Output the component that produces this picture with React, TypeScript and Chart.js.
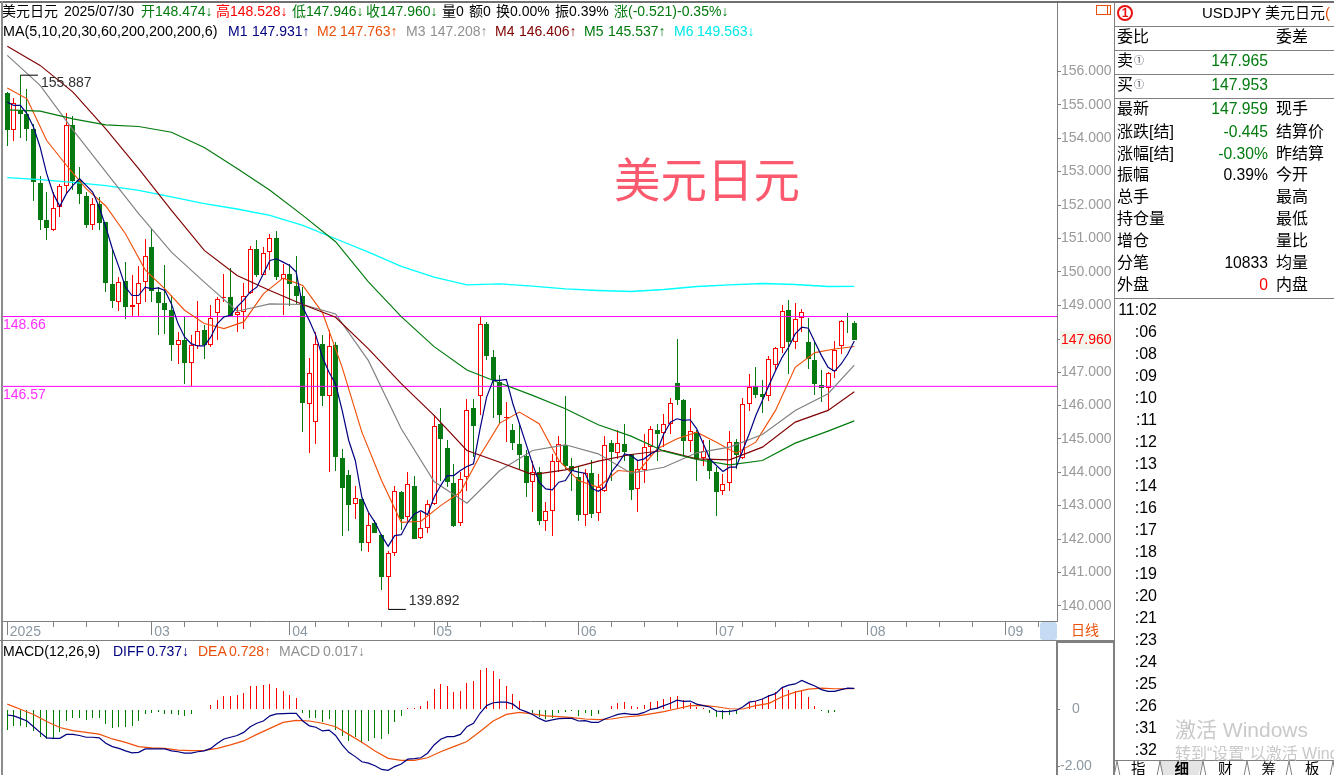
import React, { useEffect, useRef } from "react";
import { Chart, registerables } from "chart.js";

Chart.register(...registerables);

const opens = [155.35,154.25,154.80,154.71,154.28,152.67,151.54,151.24,151.94,152.56,
154.41,152.74,152.26,151.39,152.02,151.49,149.62,149.09,149.71,148.95,
149.05,149.69,150.73,149.41,149.08,148.87,147.80,147.97,147.27,147.77,
148.25,147.80,148.76,149.21,149.26,148.71,148.79,149.37,150.67,149.90,
150.59,151.02,149.79,149.94,149.58,149.29,146.05,145.51,147.85,146.28,
147.82,144.43,143.93,143.04,143.20,141.89,142.48,142.13,140.86,141.58,
143.41,142.65,143.59,142.03,142.33,143.05,145.43,144.71,143.69,142.47,
143.85,145.91,146.28,148.45,147.46,146.71,145.63,145.25,144.85,144.49,
143.70,144.01,142.54,142.84,144.30,144.82,144.20,143.87,142.71,143.99,
142.77,143.44,144.88,144.57,144.85,144.55,143.49,144.07,144.75,145.27,
145.17,145.44,146.68,146.15,144.93,145.21,144.43,144.40,144.02,143.44,
143.68,144.91,144.43,146.04,146.59,146.33,146.28,147.21,147.72,148.86,
147.89,148.63,147.90,147.36,146.62,146.53,147.02,147.78,148.50,148.474];
const closes = [154.25,155.06,154.73,154.28,152.68,151.54,151.31,151.92,152.56,154.41,
152.72,152.32,151.39,152.02,151.47,149.66,149.12,149.70,148.94,149.01,
149.67,150.48,149.42,149.08,148.87,147.80,147.97,147.27,147.80,148.24,
147.80,148.63,149.19,149.26,148.69,148.79,149.28,150.69,149.90,150.57,
151.02,149.84,149.94,149.62,149.29,146.07,146.97,147.84,146.28,147.78,
144.45,143.52,143.03,143.23,141.87,142.42,142.19,140.86,141.58,143.43,
142.61,143.65,142.01,142.32,143.05,145.39,144.99,143.70,142.40,143.80,
145.87,145.38,148.44,147.47,146.75,145.71,145.65,144.87,144.51,143.67,
144.00,142.55,142.84,144.34,144.83,144.18,144.05,142.71,143.99,142.76,
143.56,144.82,144.60,144.88,144.61,143.48,144.10,144.76,145.30,145.14,
145.44,146.08,146.16,144.93,145.24,144.40,144.63,144.03,143.40,143.65,
144.91,144.51,146.05,146.55,146.30,146.25,147.39,147.72,148.82,147.89,
148.58,148.80,147.38,146.64,146.53,146.97,147.67,148.53,148.49,147.960];
const highs = [155.38,155.21,155.887,155.48,154.43,152.88,152.40,152.38,152.62,154.76,
154.65,153.14,152.40,152.22,152.24,151.49,150.69,149.84,150.29,149.89,
150.16,150.97,151.29,149.54,150.19,149.31,148.20,148.65,148.10,149.12,
148.42,149.02,149.26,149.92,150.12,148.94,149.65,150.76,150.94,150.74,
151.14,151.21,150.22,150.24,150.48,149.54,147.42,148.19,148.12,148.26,
147.89,144.68,144.08,143.59,143.20,142.77,142.56,142.15,141.65,143.59,
143.45,144.01,143.88,142.80,143.18,145.70,145.91,144.97,144.25,144.00,
146.18,146.18,148.64,148.49,147.66,146.90,146.10,145.45,145.40,144.65,
144.35,144.15,143.10,144.55,145.07,146.27,144.43,144.20,144.10,144.37,
143.95,145.08,144.95,145.27,145.45,144.55,144.35,145.15,145.37,145.43,
145.75,146.21,148.00,146.20,145.93,145.25,144.95,144.95,144.15,143.95,
145.22,145.00,146.23,146.95,147.16,146.77,147.49,147.76,149.02,149.17,
149.07,148.89,148.62,147.94,147.05,147.01,147.94,148.56,148.78,148.528];
const lows = [153.78,153.91,154.00,153.93,152.11,151.24,150.94,151.22,151.64,152.37,
152.44,152.02,151.31,151.24,151.24,149.39,148.92,148.84,148.60,148.67,
148.67,149.09,149.09,148.10,148.13,147.33,147.25,146.63,146.57,147.70,
147.40,147.75,147.95,149.09,148.65,148.20,148.30,149.34,149.84,149.89,
150.04,149.74,148.70,148.99,149.04,145.20,144.57,144.83,145.97,144.00,
144.03,142.08,142.23,142.60,141.65,141.61,142.19,140.46,139.892,141.49,
142.27,142.55,141.99,141.99,142.17,143.03,143.75,143.55,142.35,142.40,
143.45,144.45,145.70,147.37,145.63,145.43,144.91,144.65,144.10,143.27,
142.80,142.43,142.23,142.10,144.00,144.10,143.45,142.53,142.38,142.62,
142.53,143.40,143.75,144.40,144.35,143.18,142.80,143.67,144.50,144.33,
144.75,145.15,146.00,144.50,144.60,143.75,144.18,143.80,142.68,143.31,
143.45,144.10,144.41,145.83,146.23,145.77,146.12,147.04,147.56,146.93,
147.69,148.19,147.08,146.31,146.10,145.85,146.81,147.54,148.16,147.946];

// MA1 is read at every candle; the smoother averages at every 3rd or 5th candle.
const ma1 = [155.08,154.98,154.98,154.73,154.33,153.73,152.94,152.34,151.96,152.34,
152.59,152.79,152.59,152.39,151.94,151.34,150.69,150.14,149.54,149.29,
149.29,149.54,149.49,149.52,149.44,149.04,148.45,148.05,147.85,147.78,
147.78,148.05,148.45,148.65,148.70,148.95,149.15,149.40,149.54,149.94,
150.34,150.39,150.29,150.19,149.99,148.94,148.54,148.09,147.44,146.99,
146.64,145.85,144.95,144.35,143.25,142.80,142.50,142.10,141.78,142.10,
142.13,142.50,142.75,142.85,142.73,143.25,143.60,143.90,143.90,144.05,
144.17,144.25,145.30,146.25,146.75,146.75,146.78,146.05,145.45,144.85,
144.25,143.70,143.50,143.47,143.70,143.75,144.05,144.00,143.97,143.52,
143.43,143.55,144.00,144.25,144.55,144.50,144.35,144.40,144.55,144.65,
145.15,145.50,145.60,145.55,145.57,145.30,144.85,144.40,144.20,144.02,
144.15,144.15,144.65,145.15,145.70,146.15,146.60,147.04,147.44,147.74,
148.14,148.34,148.31,147.89,147.49,147.14,147.02,147.24,147.54,147.931];
const ma2Every3 = [155.50,155.18,153.93,153.19,152.49,151.97,151.14,150.06,149.49,148.85,148.45,148.30,148.50,149.34,149.81,
149.59,148.78,147.14,145.20,143.75,142.50,142.53,143.00,143.40,144.50,145.47,145.80,145.45,144.35,
143.75,143.55,144.05,144.00,144.70,145.00,145.20,144.90,144.57,144.90,145.85,147.14,147.58,147.69,147.763];
const ma3Every5 = [156.48,155.58,154.25,152.99,151.74,150.59,149.69,148.82,149.04,149.02,148.74,147.34,145.30,143.72,143.07,144.05,144.65,144.82,144.55,143.97,144.15,144.58,144.75,145.13,145.85,146.35,147.208];
const ma4Every5 = [156.75,156.18,155.38,154.28,153.09,151.84,150.64,149.89,149.44,149.02,148.64,147.69,146.65,145.70,144.65,144.30,143.93,144.07,144.33,144.53,144.65,144.40,144.37,144.75,145.50,145.85,146.406];
const ma5Every5 = [154.85,154.81,154.58,154.40,154.35,154.18,153.72,153.09,152.44,151.69,150.90,149.70,148.66,147.76,147.06,146.67,146.30,145.90,145.42,145.08,144.63,144.38,144.22,144.35,144.87,145.23,145.537];
const ma6Every5 = [152.82,152.76,152.68,152.58,152.44,152.24,152.04,151.88,151.69,151.39,150.99,150.59,150.16,149.84,149.61,149.64,149.57,149.49,149.44,149.41,149.47,149.56,149.61,149.65,149.62,149.56,149.563];

const macdBars = [-0.73,-0.58,-0.58,-0.61,-0.76,-0.96,-1.05,-0.99,-0.78,-0.41,
-0.32,-0.32,-0.37,-0.32,-0.32,-0.52,-0.64,-0.62,-0.62,-0.58,
-0.41,-0.18,-0.14,-0.08,-0.15,-0.18,-0.20,-0.22,-0.18,-0.02,
0,0.15,0.33,0.47,0.47,0.50,0.58,0.80,0.80,0.85,
0.89,0.76,0.64,0.50,0.39,-0.14,-0.32,-0.32,-0.46,-0.34,
-0.73,-0.93,-1.11,-0.96,-1.19,-1.11,-1.01,-1.04,-0.87,-0.46,
-0.23,0.05,0.05,0.12,0.29,0.71,0.89,0.82,0.61,0.64,
0.92,0.99,1.38,1.45,1.34,1.06,0.82,0.54,0.29,0.02,
-0.12,-0.26,-0.34,-0.29,-0.12,-0.11,-0.06,-0.22,-0.12,-0.22,
-0.16,0.02,0.13,0.22,0.26,0.13,0.09,0.16,0.26,0.29,
0.36,0.43,0.47,0.33,0.21,0.09,0.04,-0.12,-0.26,-0.33,
-0.20,-0.15,0,0.25,0.29,0.36,0.50,0.60,0.76,0.68,
0.64,0.65,0.43,0.13,-0.06,-0.12,-0.09,0,0.02,0.017];
const diffLine = [-0.20,-0.23,-0.32,-0.41,-0.61,-0.81,-1.00,-1.02,-1.02,-0.88,
-0.88,-0.92,-0.98,-0.98,-1.00,-1.19,-1.31,-1.37,-1.46,-1.53,
-1.51,-1.39,-1.39,-1.39,-1.39,-1.46,-1.49,-1.54,-1.54,-1.49,
-1.46,-1.37,-1.19,-1.04,-0.98,-0.92,-0.81,-0.61,-0.49,-0.41,
-0.23,-0.16,-0.15,-0.14,-0.14,-0.41,-0.58,-0.63,-0.76,-0.73,
-0.92,-1.25,-1.51,-1.66,-1.84,-1.89,-1.98,-2.11,-2.14,-2.01,
-1.92,-1.75,-1.73,-1.70,-1.54,-1.25,-1.05,-0.96,-0.96,-0.88,
-0.61,-0.49,-0.14,0.13,0.23,0.25,0.25,0.18,0,-0.08,
-0.18,-0.32,-0.42,-0.37,-0.33,-0.32,-0.32,-0.41,-0.40,-0.46,
-0.46,-0.34,-0.26,-0.18,-0.14,-0.18,-0.18,-0.11,0,0.04,
0.13,0.21,0.32,0.28,0.29,0.18,0.13,0.08,-0.06,-0.08,
-0.07,-0.04,0.08,0.25,0.29,0.36,0.47,0.55,0.76,0.85,
0.89,1.01,0.91,0.82,0.69,0.63,0.63,0.69,0.74,0.737];
const deaEvery2 = [0.18,0,-0.18,-0.43,-0.64,-0.75,-0.81,-0.87,-1.04,-1.16,-1.31,-1.35,-1.37,-1.43,-1.45,-1.44,-1.37,-1.25,-1.11,-0.88,-0.67,-0.46,-0.39,-0.41,-0.49,-0.61,-0.88,-1.16,-1.46,-1.72,-1.79,-1.79,-1.70,-1.49,
-1.31,-1.13,-0.78,-0.41,-0.18,-0.11,-0.16,-0.23,-0.26,-0.29,-0.34,-0.36,-0.34,-0.27,-0.23,-0.16,-0.08,0.02,0.13,0.14,0.09,0.02,0.01,0.13,0.21,0.44,0.60,0.71,0.74,0.72,0.72,0.728];

const priceTicks = [140,141,142,143,144,145,146,147,149,150,151,152,153,154,155,156];
const currentPrice = 147.96;
const macdTicks = [-2, 0];
const monthTickIdx = [0,22,43,65,87,108,131,152];
const monthLabels = ["2025","03","04","05","06","07","08","09"];
const minorTickIdx = [7,12,17,27,32,37,47,52,57,62,67,72,77,82,92,97,102,112,117,122,127,137,142,147,157];
const levelLines = [148.66, 146.57];
const highMark = { from: 2, to: 4.67, value: 155.887 };
const lowMark = { from: 58, to: 60.7, value: 139.892 };

const header1 = [
  ["美元日元", 2, "#000"], ["2025/07/30", 64, "#000"], ["开148.474↓", 141, "#007a0c"], ["高148.528↓", 216, "#f00"],
  ["低147.946↓", 292, "#007a0c"], ["收147.960↓", 366, "#007a0c"], ["量0", 442, "#000"], ["额0", 469, "#000"],
  ["换0.00%", 496, "#000"], ["振0.39%", 555, "#000"], ["涨(-0.521)-0.35%↓", 614, "#007a0c"],
] as const;
const header2 = [
  ["MA(5,10,20,30,60,200,200,200,6)", 3, "#000"], ["M1", 228, "#000080"], ["147.931↑", 252, "#000080"],
  ["M2", 317, "#e8500a"], ["147.763↑", 340, "#e8500a"], ["M3", 406, "#909090"], ["147.208↑", 430, "#909090"],
  ["M4", 495, "#800000"], ["146.406↑", 519, "#800000"], ["M5", 584, "#007a0c"], ["145.537↑", 608, "#007a0c"],
  ["M6", 674, "#00e8e8"], ["149.563↓", 697, "#00e8e8"],
] as const;
const macdHeader = [
  ["MACD(12,26,9)", 3, "#000"], ["DIFF", 113, "#000080"], ["0.737↓", 147, "#000080"], ["DEA", 198, "#e8500a"],
  ["0.728↑", 229, "#e8500a"], ["MACD", 279, "#909090"], ["0.017↓", 323, "#909090"],
] as const;
const panelRows = [
  ["最新", "147.959", "现手", 109, "#007a0c"], ["涨跌[结]", "-0.445", "结算价", 131.5, "#007a0c"],
  ["涨幅[结]", "-0.30%", "昨结算", 153.5, "#007a0c"], ["振幅", "0.39%", "今开", 175, "#000"],
  ["总手", "", "最高", 197, "#000"], ["持仓量", "", "最低", 219, "#000"], ["增仓", "", "量比", 241, "#000"],
  ["分笔", "10833", "均量", 263, "#000"], ["外盘", "0", "内盘", 285, "#f00"],
] as const;
const timeRows = ["11:02",":06",":08",":09",":10",":11",":12",":13",":14",":16",":17",":18",":19",":20",":21",":23",":24",":25",":26",":31",":32"];
const tabs = ["指","细","财","筹","板"];

const GREEN = "#067a10";
const RED = "#ff0000";
const FONT = '"Liberation Sans","Noto Sans CJK SC",sans-serif';
const X_MIN = -0.655;
const X_MAX = 159.87;

const every = (vals: number[], step: number) => vals.map((y, i) => ({ x: Math.min(i * step, 129), y }));
const isDown = (i: number) => closes[i] < opens[i];
const noPad = (s: any) => { s.paddingTop = 0; s.paddingBottom = 0; s.paddingLeft = 0; s.paddingRight = 0; };

// keep thin bars crisp on the pixel grid
const snapBars = {
  id: "snapBars",
  beforeDatasetsDraw(chart: any) {
    chart.data.datasets.forEach((_: any, di: number) => {
      const meta = chart.getDatasetMeta(di);
      if (meta.type !== "bar") return;
      meta.data.forEach((el: any) => {
        el.x = Math.floor(el.x) + 0.5;
        el.y = Math.round(el.y);
        el.base = Math.round(el.base);
      });
    });
  },
};

const mainMarks = {
  id: "mainMarks",
  afterDraw(chart: any) {
    const { ctx, scales } = chart;
    const { x, y } = scales;
    ctx.save();
    ctx.strokeStyle = "#808080";
    ctx.lineWidth = 1;
    monthTickIdx.forEach((m) => {
      const px = Math.floor(x.getPixelForValue(m)) + 0.5;
      if (px > x.right) return;
      ctx.beginPath();
      ctx.moveTo(px, x.top);
      ctx.lineTo(px, x.top + 14);
      ctx.stroke();
    });
    ctx.font = "14px " + FONT;
    ctx.textBaseline = "middle";
    ctx.fillStyle = "#303030";
    ctx.fillText(highMark.value.toFixed(3), x.getPixelForValue(highMark.to) + 3, y.getPixelForValue(highMark.value) + 8);
    ctx.fillText(lowMark.value.toFixed(3), x.getPixelForValue(lowMark.to) + 3, y.getPixelForValue(lowMark.value) - 8);
    ctx.fillStyle = "#ff30ff";
    levelLines.forEach((l) => ctx.fillText(l.toFixed(2), 3, y.getPixelForValue(l) + 9));
    ctx.restore();
  },
};

function Txt({ x, y, right, size = 14, color = "#000", bold, children }: any) {
  const pos: any = right !== undefined ? { right: 1334 - right } : { left: x };
  return (
    <div style={{ position: "absolute", ...pos, top: y - 10, lineHeight: "20px", fontSize: size, color, fontWeight: bold ? "bold" : "normal", whiteSpace: "nowrap", fontFamily: FONT }}>
      {children}
    </div>
  );
}

function Rule({ x, y, w, h, c = "#808080" }: any) {
  return <div style={{ position: "absolute", left: x, top: y, width: w, height: h, background: c }} />;
}

export default function App() {
  const mainRef = useRef<HTMLCanvasElement>(null);
  const macdRef = useRef<HTMLCanvasElement>(null);

  useEffect(() => {
    const line = (data: any[], color: string, width = 1.15, order = 1) => ({
      type: "line", data, borderColor: color, borderWidth: width, pointRadius: 0, tension: 0, fill: false, order,
    });
    const idx = opens.map((_, i) => i);
    const main = new Chart(mainRef.current as any, {
      type: "bar",
      data: {
        datasets: [
          { data: idx.map((i) => ({ x: i, y: [lows[i], highs[i]] })), backgroundColor: idx.map((i) => (isDown(i) ? GREEN : RED)), barThickness: 1, grouped: false, order: 5, inflateAmount: 0, borderWidth: 0 },
          { data: idx.map((i) => ({ x: i, y: [Math.min(opens[i], closes[i]), Math.max(opens[i], closes[i])] })), backgroundColor: idx.map((i) => (isDown(i) ? GREEN : "#ffffff")), borderColor: idx.map((i) => (isDown(i) ? GREEN : RED)), borderWidth: 1, borderSkipped: false, barThickness: 5, grouped: false, order: 4, inflateAmount: 0 },
          line([{ x: X_MIN, y: levelLines[0] }, { x: X_MAX, y: levelLines[0] }], "#ff00ff", 1, 3),
          line([{ x: X_MIN, y: levelLines[1] }, { x: X_MAX, y: levelLines[1] }], "#ff00ff", 1, 3),
          line(every(ma6Every5, 5), "#00ffff", 1.3, 2),
          line(every(ma5Every5, 5), "#007a0c"),
          line(every(ma4Every5, 5), "#800000"),
          line(every(ma3Every5, 5), "#808080"),
          line(every(ma2Every3, 3), "#f0500a"),
          line(every(ma1, 1), "#000080", 1.2, 0),
          line([{ x: highMark.from, y: highMark.value }, { x: highMark.to, y: highMark.value }], "#000", 1, 0),
          line([{ x: lowMark.from, y: lowMark.value }, { x: lowMark.to, y: lowMark.value }], "#000", 1, 0),
        ] as any,
      },
      options: {
        animation: false, responsive: false, devicePixelRatio: 1, events: [],
        layout: { padding: { left: 3, top: 3, right: 0, bottom: 0 } },
        plugins: { legend: { display: false }, tooltip: { enabled: false } },
        scales: {
          x: {
            type: "linear", position: "bottom", min: X_MIN, max: X_MAX, offset: false,
            afterBuildTicks: (s: any) => { s.ticks = [...monthTickIdx, ...minorTickIdx].sort((a, b) => a - b).map((value) => ({ value })); },
            afterFit: (s: any) => { s.height = 20; noPad(s); },
            grid: { drawOnChartArea: false, offset: false, tickLength: 6, color: "#808080" },
            border: { color: "#808080" },
            ticks: {
              autoSkip: false, maxRotation: 0, align: "start", labelOffset: 2.5, padding: -3, color: "#8b98a3",
              font: { size: 14, family: FONT },
              callback: (v: any) => { const k = monthTickIdx.indexOf(v); return k >= 0 ? monthLabels[k] : ""; },
            },
          },
          y: {
            position: "right", min: 139.545, max: 158.048, beginAtZero: false,
            afterBuildTicks: (s: any) => { s.ticks = [...priceTicks, currentPrice].sort((a, b) => a - b).map((value) => ({ value })); },
            afterFit: (s: any) => { s.width = 57; noPad(s); },
            grid: { drawOnChartArea: false, tickLength: 4, color: "#808080" },
            border: { color: "#808080" },
            ticks: {
              padding: 0, font: { size: 14, family: FONT },
              color: (c: any) => (c.tick?.value === currentPrice ? "#ff0000" : "#999999"),
              showLabelBackdrop: (c: any) => c.tick?.value === currentPrice,
              backdropColor: "#f1f5ec", backdropPadding: 1,
              callback: (v: any) => Number(v).toFixed(3),
            },
          },
        },
      } as any,
      plugins: [snapBars, mainMarks] as any,
    });

    const macd = new Chart(macdRef.current as any, {
      type: "bar",
      data: {
        datasets: [
          { data: idx.map((i) => ({ x: i, y: macdBars[i] })), backgroundColor: idx.map((i) => (macdBars[i] < 0 ? "#008000" : RED)), barThickness: 1, grouped: false, order: 3, inflateAmount: 0, borderWidth: 0 },
          line(every(deaEvery2, 2), "#f0500a", 1.2, 2),
          line(every(diffLine, 1), "#000080", 1.2, 1),
        ] as any,
      },
      options: {
        animation: false, responsive: false, devicePixelRatio: 1, events: [],
        layout: { padding: { left: 3, top: 0, right: 0, bottom: 0 } },
        plugins: { legend: { display: false }, tooltip: { enabled: false } },
        scales: {
          x: { type: "linear", display: false, min: X_MIN, max: X_MAX, offset: false, grid: { offset: false } },
          y: {
            position: "right", min: -2.305, max: 2.396, beginAtZero: false,
            afterBuildTicks: (s: any) => { s.ticks = macdTicks.map((value) => ({ value })); },
            afterFit: (s: any) => { s.width = 57; noPad(s); },
            grid: { drawOnChartArea: false, tickLength: 3, color: "#808080" },
            border: { color: "#808080", width: 2 },
            ticks: {
              padding: 0, crossAlign: "center", color: "#8b98a3", font: { size: 14, family: FONT },
              callback: (v: any) => (v === 0 ? "0" : Number(v).toFixed(2)),
            },
          },
        },
      } as any,
      plugins: [snapBars] as any,
    });
    return () => { main.destroy(); macd.destroy(); };
  }, []);

  return (
    <div style={{ position: "fixed", left: 0, top: 0, width: 1334, height: 775, background: "#fff", overflow: "hidden", fontFamily: FONT }}>
      <canvas ref={mainRef} width={1114} height={641} style={{ position: "absolute", left: 0, top: 0, display: "block" }} />
      <canvas ref={macdRef} width={1114} height={134} style={{ position: "absolute", left: 0, top: 641, display: "block" }} />

      {/* frame */}
      <Rule x={0} y={1} w={1334} h={2} c="#707070" />
      <Rule x={1} y={1} w={2} h={774} c="#8c8c8c" />
      <Rule x={0} y={640} w={1115} h={1} />
      <Rule x={1058} y={641} w={57} h={2} />
      <Rule x={1114} y={2} w={1} h={773} />
      <Rule x={1113} y={641} w={2} h={134} />
      <div style={{ position: "absolute", left: 1040, top: 622, width: 17, height: 18, background: "#c5daf3", borderRadius: 3 }} />
      <Txt x={1071} y={630} size={14} color="#e8500a">日线</Txt>
      <div style={{ position: "absolute", left: 1096, top: 5, width: 15, height: 10, border: "1px solid #e8500a", boxSizing: "border-box" }} />
      <Rule x={1107} y={5} w={1} h={10} c="#e8500a" />

      {/* headers */}
      {header1.map(([t, x, c]) => <Txt key={t} x={x} y={11} color={c}>{t}</Txt>)}
      {header2.map(([t, x, c]) => <Txt key={t} x={x} y={31} color={c} size={t.startsWith("MA(") ? 14.35 : 14}>{t}</Txt>)}
      {macdHeader.map(([t, x, c]) => <Txt key={t + x} x={x} y={651} color={c}>{t}</Txt>)}
      <Txt x={614} y={181} size={46.5} color="#fb5a6e"><span style={{ lineHeight: "20px" }}>美元日元</span></Txt>

      {/* right panel */}
      <div style={{ position: "absolute", left: 1117, top: 5, width: 16, height: 16, borderRadius: 8, border: "2px solid #e81010", boxSizing: "border-box", color: "#e81010", fontSize: 12, fontWeight: "bold", lineHeight: "12px", textAlign: "center", fontFamily: FONT }}>1</div>
      <div style={{ position: "absolute", left: 1202, top: 3, width: 132, overflow: "hidden", lineHeight: "20px", fontSize: 15, color: "#000", whiteSpace: "nowrap" }}>USDJPY 美元日元<span style={{ color: "#e8500a" }}>(</span></div>
      <Rule x={1115} y={26} w={219} h={1} />
      <Rule x={1115} y={50} w={219} h={1} />
      <Rule x={1115} y={74} w={219} h={1} />
      <Rule x={1115} y={98} w={219} h={1} />
      <Rule x={1115} y={298} w={219} h={1} />
      <Txt x={1117} y={37} size={16}>委比</Txt>
      <Txt x={1276} y={37} size={16}>委差</Txt>
      <Txt x={1117} y={61} size={16}>卖</Txt>
      <Txt x={1134} y={61} size={10} color="#334">①</Txt>
      <Txt right={1268} y={61} size={15.7} color="#007a0c">147.965</Txt>
      <Txt x={1117} y={85} size={16}>买</Txt>
      <Txt x={1134} y={85} size={10} color="#334">①</Txt>
      <Txt right={1268} y={85} size={15.7} color="#007a0c">147.953</Txt>
      {panelRows.map(([a, v, b, y, c]) => (
        <React.Fragment key={a}>
          <Txt x={1117} y={y} size={16}>{a}</Txt>
          <Txt right={1268} y={y} size={15.7} color={c}>{v}</Txt>
          <Txt x={1276} y={y} size={16}>{b}</Txt>
        </React.Fragment>
      ))}
      {timeRows.map((t, i) => <Txt key={t} right={1157} y={310 + i * 22} size={16}>{t}</Txt>)}

      {/* tabs */}
      <svg width={219} height={16} style={{ position: "absolute", left: 1115, top: 759.5 }}>
        <polygon points="43,0 88,0 83,16 48,16" fill="#e4e4e4" />
        <line x1={0} y1={0.5} x2={219} y2={0.5} stroke="#808080" />
        {[2, 45, 88, 132, 174, 218].map((x) => (
          <polyline key={x} points={`${x - 3},16 ${x},1 ${x + 3},16`} fill="none" stroke="#808080" />
        ))}
      </svg>
      {tabs.map((t, i) => (
        <Txt key={t} x={1131 + i * 43.5} y={769} size={14.5} bold={t === "细"}>{t}</Txt>
      ))}

      {/* overlay message of the source screen */}
      <Txt x={1175} y={730} size={21} color="#c9c9c9">激活 Windows</Txt>
      <Txt x={1175} y={754} size={16} color="#c9c9c9">转到“设置”以激活 Windows。</Txt>
    </div>
  );
}
